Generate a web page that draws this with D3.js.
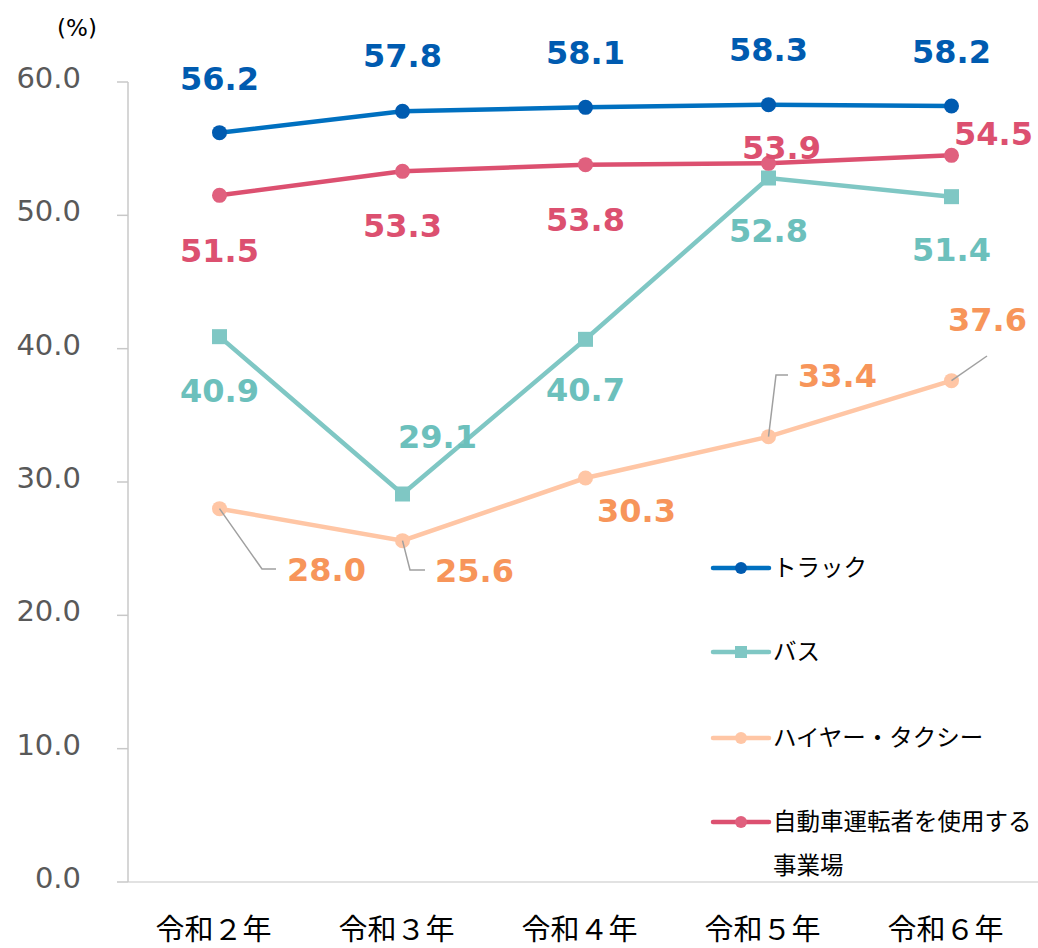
<!DOCTYPE html>
<html><head><meta charset="utf-8">
<script src="https://cdn.jsdelivr.net/npm/d3@7"></script>
<style>body{margin:0;background:#fff}svg{display:block}</style>
</head><body>
<svg id="c" width="1038" height="948"></svg>
<script>
const categories = ["令和２年","令和３年","令和４年","令和５年","令和６年"];
const truck = [56.2,57.8,58.1,58.3,58.2];
const bus = [40.9,29.1,40.7,52.8,51.4];
const taxi = [28.0,25.6,30.3,33.4,37.6];
const jigyo = [51.5,53.3,53.8,53.9,54.5];
const yTicks = [0,10,20,30,40,50,60];
const seriesNames = ["トラック","バス","ハイヤー・タクシー","自動車運転者を使用する\n事業場"];

const svg = d3.select("#c");
const x = d3.scaleBand().domain(categories).range([128,1043]);
const y = d3.scaleLinear().domain([0,60]).range([882,82]);
const cx = d => x(d) + x.bandwidth()/2;

// axes
svg.append("line").attr("x1",128).attr("x2",1038).attr("y1",y(0)).attr("y2",y(0)).attr("stroke","#d9d9d9").attr("stroke-width",1.5);
svg.append("line").attr("x1",128).attr("x2",128).attr("y1",y(60)).attr("y2",y(0)).attr("stroke","#c8c8c8").attr("stroke-width",1.5);
svg.selectAll(".yt").data(yTicks).enter().append("line")
  .attr("x1",117).attr("x2",128).attr("y1",d=>y(d)).attr("y2",d=>y(d)).attr("stroke","#c8c8c8").attr("stroke-width",1.5);
svg.selectAll(".yl").data(yTicks).enter().append("text")
  .attr("x",81).attr("y",d=>y(d)+6).attr("text-anchor","end")
  .attr("font-family","DejaVu Sans").attr("font-size",29).attr("fill","#595959")
  .text(d=>d.toFixed(1));
svg.append("text").attr("x",77).attr("y",36).attr("text-anchor","middle")
  .attr("font-family","DejaVu Sans").attr("font-size",23).attr("fill","#000").text("(%)");
svg.selectAll(".xl").data(categories).enter().append("text")
  .attr("x",d=>cx(d)-6).attr("y",940).attr("text-anchor","middle")
  .attr("font-family","Noto Sans CJK JP").attr("font-size",29).attr("fill","#000")
  .text(d=>d);

const series = [
  {vals:truck, line:"#0070C0", mark:"#005BB0", label:"#005BB0", shape:"circle"},
  {vals:bus, line:"#7FC7C4", mark:"#7FC7C4", label:"#6CC0BC", shape:"square"},
  {vals:taxi, line:"#FFC6A5", mark:"#FFC6A5", label:"#F7955A", shape:"circle"},
  {vals:jigyo, line:"#DC5070", mark:"#E0607E", label:"#DC5070", shape:"circle"}
];
const line = d3.line().x((d,i)=>cx(categories[i])).y(d=>y(d));

// leader lines for taxi
const leaders = [
  [[cx(categories[0]),y(taxi[0])],[262,569],[276,569]],
  [[cx(categories[1]),y(taxi[1])],[410,570],[425,570]],
  [[cx(categories[3]),y(taxi[3])],[776,375],[788,375]],
  [[cx(categories[4]),y(taxi[4])],[987,356]]
];

const order = [2,1,3,0];
order.forEach(si=>{
  const s = series[si];
  svg.append("path").attr("d",line(s.vals)).attr("fill","none").attr("stroke",s.line).attr("stroke-width",4.5);
  s.vals.forEach((v,i)=>{
    if(s.shape==="circle"){
      svg.append("circle").attr("cx",cx(categories[i])).attr("cy",y(v)).attr("r",7.5).attr("fill",s.mark);
    } else {
      svg.append("rect").attr("x",cx(categories[i])-7.5).attr("y",y(v)-7.5).attr("width",15).attr("height",15).attr("fill",s.mark);
    }
  });
  if(si===2) leaders.forEach(p=>svg.append("path").attr("d",d3.line()(p)).attr("fill","none").attr("stroke","#a0a0a0").attr("stroke-width",1.5));
});

// data labels (offsets in px relative to point)
const labelOff = [
  [[0,-55],[0,-56],[0,-55],[0,-56],[0,-55]],
  [[0,53],[35,-58],[0,50],[0,52],[0,52]],
  [[107,60],[72,29],[51,32],[69,-62],[36,-62]],
  [[0,55],[0,54],[0,54],[13,-16],[42,-22]]
];
series.forEach((s,si)=>{
  s.vals.forEach((v,i)=>{
    svg.append("text").attr("x",cx(categories[i])+labelOff[si][i][0]).attr("y",y(v)+labelOff[si][i][1]+12)
      .attr("text-anchor","middle").attr("font-family","DejaVu Sans").attr("font-weight","bold")
      .attr("font-size",32).attr("fill",s.label).text(v.toFixed(1));
  });
});

// legend
const ly = [568,652,738,822];
series.forEach((s,si)=>{
  const g = svg.append("g");
  g.append("line").attr("x1",713).attr("x2",769).attr("y1",ly[si]).attr("y2",ly[si]).attr("stroke",s.line).attr("stroke-width",4.5).attr("stroke-linecap","round");
  if(s.shape==="circle") g.append("circle").attr("cx",741).attr("cy",ly[si]).attr("r",6).attr("fill",s.mark);
  else g.append("rect").attr("x",735).attr("y",ly[si]-6).attr("width",12).attr("height",12).attr("fill",s.mark);
  const parts = seriesNames[si].split("\n");
  parts.forEach((t,k)=>{
    g.append("text").attr("x",773).attr("y",ly[si]+8+k*44).attr("font-family","Noto Sans CJK JP")
      .attr("font-size",23.5).attr("fill","#000").text(t);
  });
});
</script>
</body></html>
